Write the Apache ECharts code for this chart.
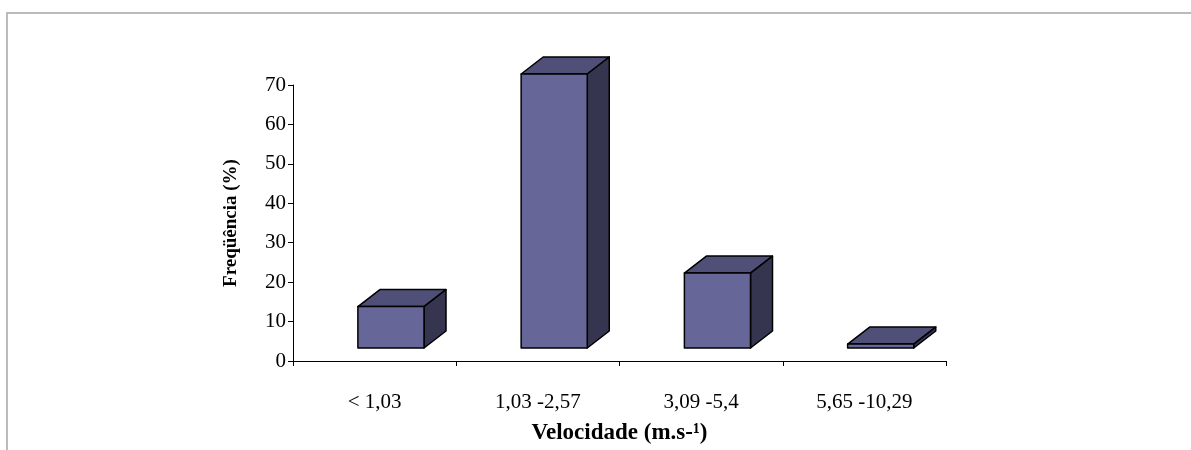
<!DOCTYPE html>
<html>
<head>
<meta charset="utf-8">
<script src="https://cdn.jsdelivr.net/npm/echarts@6/dist/echarts.min.js"></script>
<style>
  html, body { margin: 0; padding: 0; background: #fff; }
  #frame { position: absolute; left: 6px; top: 12px; right: -10px; bottom: -10px; border: 2px solid #bbbbbb; }
  #chart { position: absolute; left: 0; top: 0; width: 1191px; height: 450px; }
</style>
</head>
<body>
<div id="frame"></div>
<div id="chart"></div>
<script>
// categorias de velocidade (m.s-1)
var categorias = ["< 1,03", "1,03 -2,57", "3,09 -5,4", "5,65 -10,29"];
// frequência (%)
var frequencia = [10.5, 69.5, 19, 1];
var ticksY = { min: 0, max: 70, interval: 10 };

var fonte = "Liberation Serif, Times New Roman, serif";

// caixa 3D (frente, topo, lado)
function renderCaixa(params, api) {
  var topo = api.coord([api.value(0), api.value(1)]);
  var base = api.coord([api.value(0), 0]);
  var banda = api.size([1, 0])[0];
  var w = banda * 0.405;
  var cx = topo[0] + banda * 0.1;
  var elev = 13, dx = 22, dy = 17;
  var x0 = cx - w / 2, x1 = cx + w / 2;
  var y0 = base[1] - elev, y1 = topo[1] - elev;
  var linha = { stroke: "#000", lineWidth: 1.5, lineJoin: "round" };
  return {
    type: "group",
    children: [
      {
        type: "polygon",
        shape: { points: [[x0, y1], [x1, y1], [x1 + dx, y1 - dy], [x0 + dx, y1 - dy]] },
        style: Object.assign({ fill: "#4f4f78" }, linha)
      },
      {
        type: "polygon",
        shape: { points: [[x1, y1], [x1 + dx, y1 - dy], [x1 + dx, y0 - dy], [x1, y0]] },
        style: Object.assign({ fill: "#35354f" }, linha)
      },
      {
        type: "polygon",
        shape: { points: [[x0, y0], [x1, y0], [x1, y1], [x0, y1]] },
        style: Object.assign({ fill: "#666699" }, linha)
      }
    ]
  };
}

var chart = echarts.init(document.getElementById("chart"));
chart.setOption({
  animation: false,
  grid: { left: 293, right: 245, top: 85, bottom: 80 },
  xAxis: {
    type: "category",
    data: categorias,
    boundaryGap: true,
    name: "Velocidade (m.s-¹)",
    nameLocation: "middle",
    nameGap: 61,
    nameTextStyle: { fontFamily: fonte, fontSize: 23, fontWeight: "bold", color: "#000" },
    axisLine: { lineStyle: { color: "#000", width: 1 } },
    axisTick: { show: true, length: 5, lineStyle: { color: "#000" } },
    axisLabel: { fontFamily: fonte, fontSize: 21, color: "#000", margin: 31 },
    splitLine: { show: false }
  },
  yAxis: {
    type: "value",
    min: ticksY.min,
    max: ticksY.max,
    interval: ticksY.interval,
    name: "Freqüência (%)",
    nameLocation: "middle",
    nameGap: 52,
    nameTextStyle: { fontFamily: fonte, fontSize: 19, fontWeight: "bold", color: "#000" },
    axisLine: { show: true, lineStyle: { color: "#000", width: 1 } },
    axisTick: { show: true, length: 5, lineStyle: { color: "#000" } },
    axisLabel: { fontFamily: fonte, fontSize: 21, color: "#000", margin: 7 },
    splitLine: { show: false }
  },
  series: [{
    type: "custom",
    renderItem: renderCaixa,
    data: frequencia.map(function (v, i) { return [i, v]; }),
    encode: { x: 0, y: 1 },
    clip: false
  }]
});
</script>
</body>
</html>
